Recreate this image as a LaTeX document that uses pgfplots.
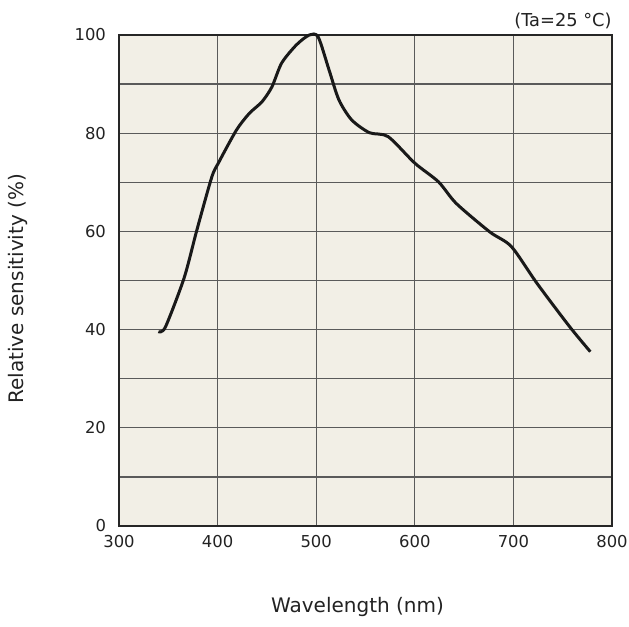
\documentclass[border=0pt]{standalone}
\usepackage{fontspec}
\setmainfont{DejaVu Sans}
\usepackage{pgfplots}
\pgfplotsset{compat=1.18}
\definecolor{bgcol}{HTML}{F2EFE6}
\definecolor{gridcol}{HTML}{5A5A5A}
\definecolor{txtcol}{HTML}{222222}
\begin{document}
\begin{tikzpicture}
\begin{axis}[
    scale only axis,
    width=246.5pt, height=245.5pt,
    xmin=300, xmax=800,
    ymin=0, ymax=100,
    xtick={300,400,...,800},
    ytick={0,20,...,100},
    minor ytick={10,30,...,90},
    grid=both,
    major grid style={line width=0.6pt, draw=gridcol},
    minor grid style={line width=0.6pt, draw=gridcol},
    major tick length=0pt, minor tick length=0pt,
    axis line style={line width=1pt, draw=black!85},
    axis background/.style={fill=bgcol},
    tick label style={font=\fontsize{8.2}{9}\selectfont, text=txtcol},
    /pgf/number format/assume math mode=true,
    xticklabel style={inner sep=0.5pt, yshift=-4pt},
    yticklabel style={xshift=-3pt},
    every axis x label/.style={at={(axis description cs:0.5,0)}, xshift=-4pt, yshift=-40.5pt, anchor=center},
    every axis y label/.style={at={(axis description cs:0,0.483)}, xshift=-50.5pt, anchor=center, rotate=90},
    label style={font=\fontsize{10}{12}\selectfont, text=txtcol},
    xlabel={Wavelength (nm)},
    ylabel={Relative sensitivity (\%)},
    clip=false,
]
\addplot[black!90, line width=1.5pt, smooth, tension=0.45] coordinates {
    (340,39.6) (347,40.5) (366,50.5) (379,60.3) (394,71) (401,74)
    (419,80.6) (432,84) (445,86.4) (455,89.4) (465,94.3) (480,98)
    (493,100) (502,99.6) (513,92.9) (523,86.8) (536,82.7) (554,80.1)
    (573,79.3) (600,73.9) (624,70.1) (642,65.7) (676,59.9) (698,56.9)
    (724,49.4) (757,40.6) (778,35.5)
};
\node[anchor=south east, font=\fontsize{8.9}{10}\selectfont, text=txtcol, inner sep=0pt, yshift=3pt] at (axis description cs:1,1) {(Ta=25 °C)};
\end{axis}
\path ([xshift=-59.5pt,yshift=-50pt]current axis.south west) rectangle ([xshift=8.5pt,yshift=17.5pt]current axis.north east);
\end{tikzpicture}
\end{document}
